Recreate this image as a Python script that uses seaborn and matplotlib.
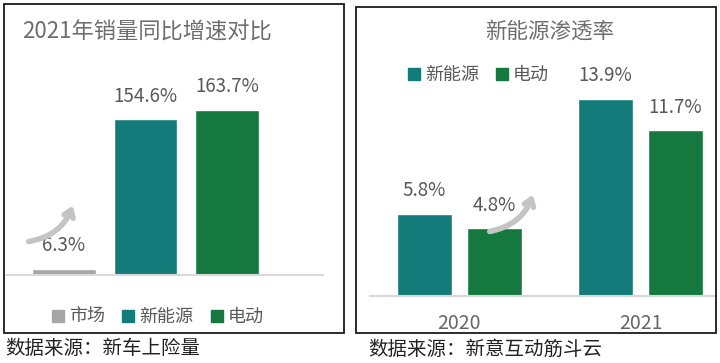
import matplotlib
matplotlib.use("Agg")
import matplotlib.pyplot as plt
import seaborn as sns
import pandas as pd
from matplotlib.lines import Line2D
from matplotlib.patches import Rectangle, FancyArrowPatch

# left chart: 2021 YoY sales growth (%)
growth_cats = ["市场", "新能源", "电动"]
growth_vals = [6.3, 154.6, 163.7]

# right chart: NEV penetration (%)
years = ["2020", "2021"]
pen_nev = [5.8, 13.9]
pen_ev = [4.8, 11.7]
pen_series = ["新能源", "电动"]

GRAY = "#A6A6A6"
TEAL = "#137B7A"
GREEN = "#15793F"
TXT = "#595959"

sns.set_style("white")
plt.rcParams["font.family"] = ["Noto Sans CJK SC", "DejaVu Sans"]

W, H = 720, 363
fig = plt.figure(figsize=(7.2, 3.63), dpi=100)


def px_axes(x0, x1, y_base, height):
    # axes placed in pixel coords (y from top)
    return fig.add_axes([x0 / W, (H - y_base) / H, (x1 - x0) / W, height / H])


def style_ax(ax):
    for s in ["top", "left", "right"]:
        ax.spines[s].set_visible(False)
    ax.spines["bottom"].set_color("#D9D9D9")
    ax.spines["bottom"].set_linewidth(1.5)
    ax.set_yticks([])
    ax.set_xlabel("")
    ax.set_ylabel("")
    ax.patch.set_alpha(0)


# ---- left panel ----
df1 = pd.DataFrame({"cat": growth_cats, "val": growth_vals})
ax1 = px_axes(5, 323, 275, 190)
sns.barplot(data=df1, x="cat", y="val", hue="cat", palette=[GRAY, TEAL, GREEN],
            width=0.785, legend=False, ax=ax1, saturation=1)
ax1.set_xlim(-0.724, 3.178)
ax1.set_ylim(0, 190 / 1.009)
style_ax(ax1)
ax1.set_xticks([])
for i, v in enumerate(growth_vals):
    ax1.annotate(f"{v}%", (i, v), xytext=(0, 16.5), textcoords="offset points",
                 ha="center", va="center", fontsize=13.5, color=TXT)

h1 = [Line2D([], [], marker="s", ls="", markersize=8, color=c) for c in [GRAY, TEAL, GREEN]]
fig.legend(h1, growth_cats, loc="center left", bbox_to_anchor=(40 / W, 1 - 317 / H),
           ncol=3, frameon=False, fontsize=13, labelcolor=TXT, handletextpad=0.1,
           columnspacing=0.8, handlelength=1.0, borderpad=0)

fig.text(22 / W, 1 - 32 / H, "2021年销量同比增速对比", fontsize=16, color="#6E6E6E",
         ha="left", va="center")

# ---- right panel ----
df2 = pd.DataFrame({
    "year": years * 2,
    "series": [pen_series[0]] * 2 + [pen_series[1]] * 2,
    "val": pen_nev + pen_ev,
})
ax2 = px_axes(370, 716, 296, 230)
sns.barplot(data=df2, x="year", y="val", hue="series", palette=[TEAL, GREEN],
            width=0.773, gap=0.214, legend=False, ax=ax2, saturation=1)
ax2.set_xlim(-0.494, 1.417)
ax2.set_ylim(0, 230 / 14.18)
style_ax(ax2)
ax2.tick_params(axis="x", length=0, pad=12, labelsize=14, labelcolor="#666666")
for bar in ax2.patches:
    h = bar.get_height()
    if h > 0:
        ax2.annotate(f"{h}%", (bar.get_x() + bar.get_width() / 2, h), xytext=(0, 16.5),
                     textcoords="offset points", ha="center", va="center",
                     fontsize=13.5, color=TXT)

h2 = [Line2D([], [], marker="s", ls="", markersize=8, color=c) for c in [TEAL, GREEN]]
fig.legend(h2, pen_series, loc="center left", bbox_to_anchor=(396 / W, 1 - 75 / H),
           ncol=2, frameon=False, fontsize=13, labelcolor=TXT, handletextpad=0.1,
           columnspacing=0.8, handlelength=1.0, borderpad=0)

fig.text(550 / W, 1 - 32 / H, "新能源渗透率", fontsize=15.5, color="#6E6E6E",
         ha="center", va="center")

# panel frames
for x0, y0, x1, y1 in [(4, 4, 344, 333), (356, 7, 716, 333)]:
    fig.patches.append(Rectangle((x0 / W, 1 - y1 / H), (x1 - x0) / W, (y1 - y0) / H,
                                 transform=fig.transFigure, fill=False,
                                 edgecolor="#1A1A1A", linewidth=1.3))

# curved growth arrows
for (xs, ys), (xe, ye) in [((26, 242), (74, 203)), ((487, 232), (534, 192))]:
    arr = FancyArrowPatch((xs / W, 1 - ys / H), (xe / W, 1 - ye / H),
                          transform=fig.transFigure, connectionstyle="arc3,rad=0.3",
                          arrowstyle="->,head_length=5,head_width=3.5", color="#C4C4C4",
                          linewidth=4, capstyle="round", joinstyle="round")
    fig.patches.append(arr)

# sources
fig.text(5 / W, 1 - 349 / H, "数据来源：新车上险量", fontsize=14, color="#222222",
         ha="left", va="center")
fig.text(368 / W, 1 - 349 / H, "数据来源：新意互动筋斗云", fontsize=14, color="#222222",
         ha="left", va="center")

fig.savefig("out.png", dpi=100)
